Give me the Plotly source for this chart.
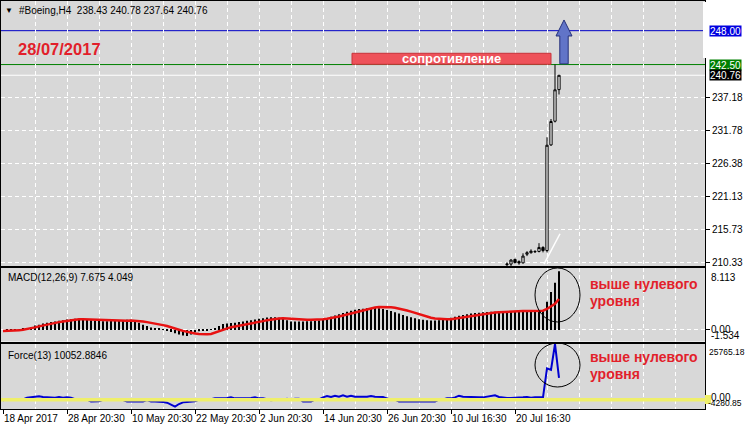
import plotly.graph_objects as go

# ---------------- data ----------------
n_bars = 140
bar_index = list(range(n_bars))

tick_bars = [0, 16, 32, 48, 64, 80, 96, 112, 128]
tick_labels = ["18 Apr 2017", "28 Apr 20:30", "10 May 20:30", "22 May 20:30",
               "2 Jun 20:30", "14 Jun 20:30", "26 Jun 20:30", "10 Jul 16:30",
               "20 Jul 16:30"]
grid_bars = list(range(8, 176, 8))

price_ticks = [237.18, 231.78, 226.38, 221.13, 215.73, 210.33]

candle_bars = list(range(126, 140))
c_open = [210.0, 210.1, 210.85, 210.5, 210.3, 211.7, 211.95, 212.1, 212.15, 212.8,
          212.3, 229.45, 233.3, 238.43]
c_high = [210.4, 210.9, 211.0, 210.7, 211.85, 212.2, 212.5, 212.35, 213.5, 213.0,
          230.7, 233.66, 242.5, 240.78]
c_low = [209.5, 209.8, 210.2, 210.0, 210.2, 211.4, 211.8, 211.9, 212.0, 212.0,
         212.0, 229.3, 233.1, 237.64]
c_close = [210.1, 210.75, 210.35, 210.3, 211.4, 211.95, 212.2, 212.15, 212.8, 212.3,
           229.4, 233.25, 238.4, 240.76]

macd_hist = [0.0, 0.02, 0.05, 0.08, 0.12, 0.18, 0.26, 0.39, 0.6, 0.69,
             0.86, 0.94, 1.03, 1.12, 1.2, 1.29, 1.37, 1.42, 1.46, 1.46,
             1.42, 1.37, 1.29, 1.24, 1.2, 1.16, 1.16, 1.2, 1.2, 1.24,
             1.29, 1.33, 1.33, 1.29, 0.94, 0.69, 0.52, 0.34, 0.26, 0.17,
             0.09, -0.09, -0.26, -0.43, -0.6, -0.73, -0.77, -0.6, -0.34, -0.17,
             -0.09, -0.04, 0.02, 0.17, 0.52, 0.77, 0.86, 0.9, 0.94, 1.03,
             1.12, 1.2, 1.29, 1.37, 1.46, 1.55, 1.63, 1.67, 1.67, 1.59,
             1.46, 1.29, 1.12, 1.12, 1.12, 1.12, 1.16, 1.16, 1.2, 1.24,
             1.37, 1.55, 1.72, 1.89, 2.06, 2.23, 2.4, 2.53, 2.66, 2.75,
             2.79, 2.83, 2.88, 2.88, 2.83, 2.75, 2.62, 2.49, 2.32, 2.15,
             1.97, 1.8, 1.67, 1.55, 1.42, 1.33, 1.29, 1.24, 1.24, 1.29,
             1.37, 1.46, 1.59, 1.72, 1.85, 1.97, 2.06, 2.15, 2.23, 2.27,
             2.32, 2.36, 2.4, 2.4, 2.45, 2.45, 2.49, 2.49, 2.49, 2.49,
             2.49, 2.49, 2.49, 2.49, 2.45, 2.6, 3.69, 4.98, 6.18, 7.675]

macd_signal = [-0.13, -0.12, -0.1, -0.09, -0.05, 0.04, 0.12, 0.21, 0.34, 0.47,
               0.6, 0.71, 0.82, 0.93, 1.03, 1.12, 1.2, 1.29, 1.37, 1.4,
               1.42, 1.4, 1.37, 1.33, 1.29, 1.26, 1.24, 1.22, 1.2, 1.2,
               1.2, 1.22, 1.24, 1.23, 1.2, 1.12, 1.03, 0.95, 0.86, 0.75,
               0.64, 0.52, 0.39, 0.22, 0.04, -0.12, -0.26, -0.37, -0.47, -0.52,
               -0.56, -0.55, -0.52, -0.35, -0.17, 0.05, 0.26, 0.37, 0.47, 0.56,
               0.64, 0.73, 0.82, 0.93, 1.03, 1.16, 1.29, 1.38, 1.46, 1.51,
               1.55, 1.5, 1.46, 1.41, 1.37, 1.35, 1.33, 1.33, 1.33, 1.37,
               1.42, 1.48, 1.55, 1.65, 1.76, 1.89, 2.02, 2.17, 2.32, 2.47,
               2.62, 2.75, 2.88, 2.95, 3.0, 3.01, 3.0, 2.97, 2.92, 2.82,
               2.7, 2.55, 2.4, 2.23, 2.06, 1.89, 1.72, 1.6, 1.5, 1.45,
               1.42, 1.42, 1.42, 1.5, 1.59, 1.7, 1.8, 1.89, 1.97, 2.04,
               2.1, 2.17, 2.23, 2.28, 2.32, 2.36, 2.4, 2.43, 2.45, 2.47,
               2.49, 2.49, 2.49, 2.49, 2.49, 2.53, 2.75, 3.05, 3.43, 4.049]

force = [-300, 100, 150, 100, 50, 100, 924, 1078, 1232, 1540,
         1232, 1078, 1078, 924, 1232, 924, 1078, 924, 200, -100,
         150, 0, -800, -800, -750, 0, 100, -100, 200, 0,
         -200, -800, -800, -800, -800, -800, -200, -800, -800, -800,
         -1078, -1386, -2156, -3234, -2002, -1232, -1078, -924, -770, 0,
         100, -100, 200, 616, 616, 462, 770, 1078, 616, 616,
         616, 616, 770, 1078, 616, 616, 100, -200, 0, 200,
         -100, 450, 0, 450, 450, -800, -800, -800, 0, 100,
         1078, 1694, 1232, 1848, 1386, 2002, 1386, 1848, 1386, 1540,
         1386, 1386, 1694, 1386, 1232, 1232, 616, 0, 100, -800,
         -800, -800, -800, -800, -800, -800, -800, -800, -800, 0,
         100, 616, 616, 1078, 1848, 1386, 1232, 1232, 924, 1078,
         1078, 1386, 1694, 2002, 1232, 924, 770, 770, 770, 770,
         1078, 1232, 924, 1078, 924, 1078, 14500, 13800, 25765.18, 10052.88]

assert len(macd_hist) == n_bars and len(macd_signal) == n_bars and len(force) == n_bars

# ---------------- geometry helpers (layout only) ----------------
W_FIG, H_FIG = 745, 431
L, R, T, B = 1, 40, 1, 22
PW = W_FIG - L - R
PH = H_FIG - T - B


def px(xp):
    return (xp - L) / PW


def py(yp):
    return (T + PH - yp) / PH


FONT = "Liberation Sans"
GRID_DASH = "4px,3px"
BG = "#d8d8d8"
XR = [-0.5, 175.5]

fig = go.Figure()

fig.add_trace(go.Candlestick(
    x=candle_bars, open=c_open, high=c_high, low=c_low, close=c_close,
    increasing=dict(line=dict(color="black", width=1), fillcolor="white"),
    decreasing=dict(line=dict(color="black", width=1), fillcolor="black"),
    whiskerwidth=0, xaxis="x", yaxis="y", hoverinfo="skip"))

fig.add_trace(go.Bar(x=bar_index, y=macd_hist, width=0.28,
                     marker=dict(color="black", line=dict(width=0)),
                     xaxis="x2", yaxis="y2", hoverinfo="skip"))
fig.add_trace(go.Scatter(x=bar_index, y=macd_signal, mode="lines",
                         line=dict(color="#e81212", width=2.5),
                         xaxis="x2", yaxis="y2", hoverinfo="skip"))

fig.add_trace(go.Scatter(x=bar_index, y=force, mode="lines",
                         line=dict(color="#0000d0", width=2),
                         xaxis="x3", yaxis="y3", hoverinfo="skip"))

axis_common = dict(showline=True, linecolor="black", linewidth=1, mirror=True,
                   zeroline=False)

layout = dict(
    width=W_FIG, height=H_FIG,
    margin=dict(l=L, r=R, t=T, b=B),
    paper_bgcolor="white", plot_bgcolor=BG,
    showlegend=False, boxgap=0.2,
    font=dict(family=FONT, size=10, color="black"),
    xaxis=dict(domain=[0, 1], anchor="y", range=XR, tickvals=grid_bars,
               showticklabels=False, ticks="", showgrid=True, gridcolor="white",
               griddash=GRID_DASH, rangeslider=dict(visible=False), **axis_common),
    yaxis=dict(domain=[py(266), 1], anchor="x", range=[209.79, 252.82], side="right",
               tickvals=price_ticks, ticktext=[f"{v:.2f}" for v in price_ticks],
               ticks="outside", ticklen=4, tickcolor="black", showgrid=True,
               gridcolor="white", griddash=GRID_DASH, tickfont=dict(size=10),
               **axis_common),
    xaxis2=dict(domain=[0, 1], anchor="y2", range=XR, tickvals=grid_bars,
                showticklabels=False, ticks="", showgrid=True, gridcolor="white",
                griddash=GRID_DASH, **axis_common),
    yaxis2=dict(domain=[py(341.5), py(268)], anchor="x2", range=[-1.506, 8.113],
                side="right", tickvals=[0], showticklabels=False, ticks="outside",
                ticklen=4, tickcolor="black", showgrid=True, gridcolor="white",
                griddash=GRID_DASH, **axis_common),
    xaxis3=dict(domain=[0, 1], anchor="y3", range=XR, tickvals=tick_bars,
                ticktext=tick_labels, ticks="outside", ticklen=4, tickcolor="black",
                ticklabelposition="outside right", tickangle=0,
                tickfont=dict(size=10), showgrid=False,
                minor=dict(tickmode="array", tickvals=grid_bars, showgrid=True,
                           gridcolor="white", griddash=GRID_DASH, ticks=""),
                **axis_common),
    yaxis3=dict(domain=[0, py(344)], anchor="x3", range=[-4302, 25765.18],
                side="right", tickvals=[], showticklabels=False, showgrid=False,
                **axis_common),
)
fig.update_layout(**layout)

shapes = []
# price level lines
shapes.append(dict(type="line", xref="paper", yref="y", x0=0, x1=1, y0=248.0, y1=248.0,
                   line=dict(color="#0000c8", width=1), layer="below"))
shapes.append(dict(type="line", xref="paper", yref="y", x0=0, x1=1, y0=242.5, y1=242.5,
                   line=dict(color="#008000", width=1), layer="below"))
shapes.append(dict(type="line", xref="paper", yref="y", x0=0, x1=1, y0=240.76, y1=240.76,
                   line=dict(color="white", width=1.2), layer="below"))
# resistance box
shapes.append(dict(type="rect", xref="x", yref="y", x0=87.25, x1=137, y0=242.54, y1=244.33,
                   fillcolor="#ee525a", line=dict(color="#c8323a", width=1), layer="above"))
# arrow
shapes.append(dict(type="path", xref="x", yref="y",
                   path="M 140.25,249.74 L 142.25,247.14 L 141.3,247.14 L 141.3,242.62 "
                        "L 139.2,242.62 L 139.2,247.14 L 138.25,247.14 Z",
                   fillcolor="#6174c8", line=dict(color="#25307a", width=1), layer="above"))
# white diagonal trend line
shapes.append(dict(type="line", xref="x", yref="y", x0=135.25, y0=210.1, x1=139.25, y1=215.03,
                   line=dict(color="white", width=1.5), layer="above"))
# ellipses
shapes.append(dict(type="circle", xref="x2", yref="y2", x0=133, x1=144.25, y0=1.05, y1=8.12,
                   line=dict(color="black", width=1), layer="above"))
shapes.append(dict(type="circle", xref="x3", yref="y3", x0=133, x1=144.25, y0=5875, y1=26230,
                   line=dict(color="black", width=1), layer="above"))
# yellow zero level in Force window
shapes.append(dict(type="line", xref="paper", yref="y3", x0=0, x1=1, y0=0, y1=0,
                   line=dict(color="#efef6a", width=3.5), layer="above"))
# small yellow marker at right scale
shapes.append(dict(type="rect", xref="paper", yref="paper", x0=px(705), x1=px(711),
                   y0=py(404), y1=py(395), fillcolor="#efef6a", line=dict(width=0)))
# white strip top-right
shapes.append(dict(type="rect", xref="paper", yref="paper", x0=px(703), x1=px(707),
                   y0=py(58), y1=py(2), fillcolor="white", line=dict(width=0)))
fig.update_layout(shapes=shapes)

ann = []


def text_px(x, y, text, size=10, color="black", xanchor="left", bold=False, **kw):
    t = f"<b>{text}</b>" if bold else text
    ann.append(dict(xref="paper", yref="paper", x=px(x), y=py(y), text=t,
                    showarrow=False, xanchor=xanchor, yanchor="middle",
                    font=dict(family=FONT, size=size, color=color), **kw))


text_px(3, 10, "▼", size=8)
text_px(17, 10, "#Boeing,H4  238.43 240.78 237.64 240.76", size=10)
text_px(16, 49, "28/07/2017", size=16.5, color="#e21f2b", bold=True)
text_px(6, 277, "MACD(12,26,9) 7.675 4.049", size=10)
text_px(6, 355, "Force(13) 10052.8846", size=10)
for yy, line in [(284, "выше нулевого"), (301, "уровня"),
                 (357, "выше нулевого"), (374, "уровня")]:
    text_px(588, yy, line, size=14, color="#e21f2b", bold=True)

# right scale labels of indicator windows
text_px(709, 277, "8.113")
text_px(709, 329.5, "0.00")
text_px(709, 335.5, "-1.534")
text_px(707, 352, "25765.18", size=8.5)
text_px(709, 397.5, "0.00")
text_px(706, 403, "-4280.85", size=8.5)

# coloured price labels
for yv, txt, bg in [(248.0, "248.00", "#0000e0"), (242.5, "242.50", "#008000"),
                    (240.76, "240.76", "black")]:
    ann.append(dict(xref="paper", yref="y", x=px(709), y=yv, text=txt, showarrow=False,
                    xanchor="left", yanchor="middle", bgcolor=bg, width=31, height=10,
                    align="left", borderpad=0,
                    font=dict(family=FONT, size=10, color="white")))

# resistance label
ann.append(dict(xref="x", yref="y", x=112.1, y=243.45, text="<b>сопротивление</b>",
                showarrow=False, xanchor="center", yanchor="middle",
                font=dict(family=FONT, size=13, color="white")))

fig.update_layout(annotations=ann)

fig.write_html("out.html", config={"displayModeBar": False},
               post_script="document.body.style.margin='0px';")
